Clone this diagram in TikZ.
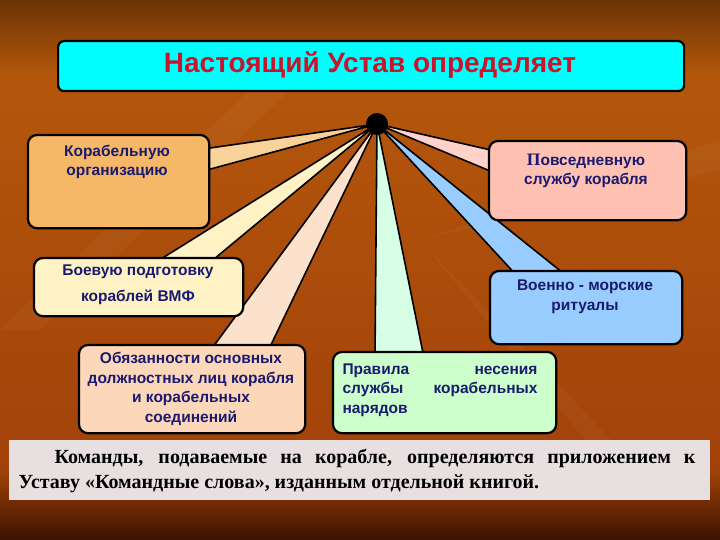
\documentclass[tikz,border=0pt]{standalone}
\usepackage{fontspec}
\setmainfont{Liberation Sans}
\newfontfamily\timesfont{Liberation Serif}
\usetikzlibrary{calc}

\definecolor{bgtop}{HTML}{6C3404}
\definecolor{bgmid}{HTML}{B4570C}
\definecolor{bglow}{HTML}{A2420A}
\definecolor{bgbot}{HTML}{3C1202}
\definecolor{navy}{HTML}{1A1A6E}
\definecolor{titlered}{HTML}{C8142C}
\definecolor{titlecyan}{HTML}{00FFFF}
\definecolor{orgfill}{HTML}{F5B868}
\definecolor{orgwedge}{HTML}{F9D29A}
\definecolor{boevfill}{HTML}{FFF3C6}
\definecolor{obyazfill}{HTML}{FDD7BA}
\definecolor{obyazwedge}{HTML}{FCE2CC}
\definecolor{pravfill}{HTML}{CCFFCC}
\definecolor{pravwedge}{HTML}{D6FFE6}
\definecolor{povsfill}{HTML}{FFC2B2}
\definecolor{povswedge}{HTML}{FFD2CA}
\definecolor{voenfill}{HTML}{99CCFF}
\definecolor{notefill}{HTML}{E8E0E0}

% клин-выноска от центра к прямоугольнику
\newcommand{\callout}[4]{%
  \filldraw[fill=#1, draw=black, line width=1.6pt, line join=round]
    (#2.center) -- (#3) -- (#4) -- cycle;
}

\begin{document}
\begin{tikzpicture}[
  x=1pt, y=-1pt,
  box/.style={draw=black, line width=2.2pt, rounded corners=9pt,
    inner sep=0pt, anchor=north west},
  lbl/.style={font=\bfseries\fontsize{15.5}{19.5}\selectfont, text=navy,
    align=center, inner sep=0pt},
  ]
  \useasboundingbox (0,0) rectangle (720,540);

  % фон
  \shade[top color=bgtop, bottom color=bgmid] (0,0) rectangle (720,75);
  \shade[top color=bgmid, bottom color=bglow] (0,75) rectangle (720,470);
  \shade[top color=bglow, bottom color=bgbot] (0,470) rectangle (720,540);
  \fill[white, opacity=0.035] (0,330) -- (250,90) -- (290,90) -- (40,330) -- cycle;
  \fill[white, opacity=0.035] (420,240) -- (720,140) -- (720,170) -- cycle;
  \fill[white, opacity=0.035] (420,240) -- (640,470) -- (610,470) -- cycle;

  % заголовок
  \node[box, fill=titlecyan, rounded corners=6pt, minimum width=626pt,
    minimum height=50pt] (title) at (57,40) {};
  \node[font=\bfseries\fontsize{28}{30}\selectfont, text=titlered,
    inner sep=0pt] (titletext) at (370,65) {Настоящий Устав определяет};

  % центральная точка
  \coordinate (hub) at (377,124);

  % блоки
  \node[box, fill=orgfill, minimum width=179pt, minimum height=91pt] (org) at (28,135) {};
  \node[box, fill=boevfill, minimum width=207pt, minimum height=56pt] (boev) at (34,258) {};
  \node[box, fill=obyazfill, minimum width=224pt, minimum height=86pt] (obyaz) at (79,345) {};
  \node[box, fill=pravfill, minimum width=221pt, minimum height=79pt] (prav) at (333,352) {};
  \node[box, fill=povsfill, minimum width=195pt, minimum height=77pt] (povs) at (489,141) {};
  \node[box, fill=voenfill, minimum width=190pt, minimum height=71pt] (voen) at (490,271) {};

  % выноски
  \callout{orgwedge}{hub}{$(org.north east)+(-6,14)$}{$(org.north east)+(-6,36)$}
  \callout{boevfill}{hub}{$(boev.north west)+(119,6)$}{$(boev.north west)+(174,6)$}
  \callout{obyazwedge}{hub}{$(obyaz.north west)+(131,6)$}{$(obyaz.north west)+(189,6)$}
  \callout{pravwedge}{hub}{$(prav.north west)+(42,6)$}{$(prav.north west)+(91,6)$}
  \callout{povswedge}{hub}{$(povs.north west)+(6,10)$}{$(povs.north west)+(6,32)$}
  \callout{voenfill}{hub}{$(voen.north west)+(28,6)$}{$(voen.north west)+(78,6)$}

  % блоки поверх выносок
  \foreach \name/\clr in {org/orgfill, boev/boevfill, obyaz/obyazfill,
    prav/pravfill, povs/povsfill, voen/voenfill}
    \draw[fill=\clr, line width=2.2pt, rounded corners=9pt]
      (\name.north west) rectangle (\name.south east);

  \fill[black] (hub) circle[radius=11pt];

  % надписи
  \node[lbl] (orgtext) at (117,162) {Корабельную\\организацию};
  \node[lbl, font=\bfseries\fontsize{15.5}{26}\selectfont] (boevtext) at (138,285)
    {Боевую подготовку\\кораблей ВМФ};
  \node[lbl] (obyaztext) at (191,389)
    {Обязанности основных\\должностных лиц корабля\\и корабельных\\соединений};
  \node[lbl, align=left, text width=195pt] (pravtext) at (440,390)
    {Правила \hfill несения\\службы \hfill корабельных\\нарядов};
  \node[lbl, font=\bfseries\fontsize{15.5}{18.5}\selectfont] (povstext) at (586,171)
    {{\timesfont\fontsize{17.5}{18}\selectfont П}овседневную\\службу корабля};
  \node[lbl] (voentext) at (585,297) {Военно - морские\\ритуалы};

  % примечание
  \node[fill=notefill, anchor=north west, minimum width=701pt,
    minimum height=60pt, inner sep=0pt] (note) at (9,440) {};
  \node[font=\timesfont\bfseries\fontsize{20}{25}\selectfont, text width=677pt,
    align=justify, inner sep=0pt] (notetext) at (357,471)
    {\hspace*{36pt}Команды, подаваемые на корабле, определяются приложением к\linebreak
    Уставу «Командные слова», изданным отдельной книгой.};
\end{tikzpicture}
\end{document}
